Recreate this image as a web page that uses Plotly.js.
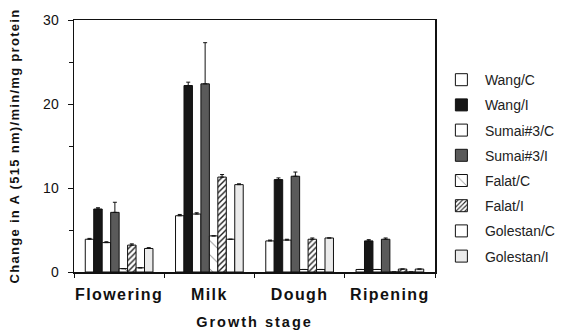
<!DOCTYPE html>
<html><head><meta charset="utf-8">
<script src="https://cdn.plot.ly/plotly-3.0.1.min.js"></script>
<style>
body{margin:0;background:#fff}#c{width:563px;height:335px}
#c .xtick text{letter-spacing:1.4px}
#c .g-xtitle text{letter-spacing:2px}
#c .g-ytitle text{letter-spacing:1.3px}
</style>
</head><body><div id="c"></div>
<script>
const stages = ["Flowering", "Milk", "Dough", "Ripening"];
const seriesNames = ["Wang/C", "Wang/I", "Sumai#3/C", "Sumai#3/I", "Falat/C", "Falat/I", "Golestan/C", "Golestan/I"];
const wangC = [3.9, 6.7, 3.7, 0.3];
const wangI = [7.5, 22.2, 11.0, 3.7];
const sumaiC = [3.5, 6.9, 3.8, 0.3];
const sumaiI = [7.1, 22.4, 11.4, 3.9];
const falatC = [0.4, 4.3, 0.3, 0];
const falatI = [3.2, 11.3, 3.9, 0.35];
const golestanC = [0.5, 3.9, 0.3, 0];
const golestanI = [2.8, 10.4, 4.05, 0.35];
const wangCErr = [0.1, 0.15, 0.1, 0];
const wangIErr = [0.15, 0.4, 0.2, 0.15];
const sumaiCErr = [0.1, 0.15, 0.1, 0];
const sumaiIErr = [1.2, 4.9, 0.5, 0.15];
const falatCErr = [0, 0, 0, 0];
const falatIErr = [0.15, 0.3, 0.15, 0];
const golestanCErr = [0, 0, 0, 0];
const golestanIErr = [0.1, 0.1, 0, 0];

const values = [wangC, wangI, sumaiC, sumaiI, falatC, falatI, golestanC, golestanI];
const errs = [wangCErr, wangIErr, sumaiCErr, sumaiIErr, falatCErr, falatIErr, golestanCErr, golestanIErr];
const fills = ["#ffffff", "#161616", "#ffffff", "#5a5a5a", "#ffffff", "#ffffff", "#ffffff", "#ebebeb"];
const patterns = [null, null, null, null,
  {shape: "\\", fgcolor: "#555", bgcolor: "#fff", size: 10, solidity: 0.08},
  {shape: "/", fgcolor: "#222", bgcolor: "#fff", size: 4, solidity: 0.35},
  null, null];

const traces = seriesNames.map((n, i) => {
  const m = {color: fills[i], line: {color: "#111", width: 1}};
  if (patterns[i]) m.pattern = patterns[i];
  return {
    type: "bar", name: n, x: stages, y: values[i], marker: m,
    legendgroup: "g" + i,
    error_y: {type: "data", symmetric: false, array: errs[i], arrayminus: errs[i].map(() => 0),
      color: "#111", thickness: 1, width: 2, visible: true}
  };
});

const layout = {
  width: 563, height: 335,
  margin: {l: 74, r: 128, t: 20, b: 63, autoexpand: false},
  barmode: "group", bargap: 0.25, bargroupgap: 0,
  paper_bgcolor: "#fff", plot_bgcolor: "#fff",
  font: {family: "Liberation Sans, Arial, sans-serif", color: "#111"},
  showlegend: true,
  legend: {x: 1.008, y: 0.825, xanchor: "left", yanchor: "top", font: {size: 14, color: "#222"},
    tracegroupgap: 4, traceorder: "grouped", bgcolor: "rgba(0,0,0,0)", itemwidth: 37},
  xaxis: {
    type: "category", tickson: "boundaries", ticks: "outside", ticklen: 4, tickcolor: "#111",
    showline: true, linecolor: "#111", linewidth: 1.5, mirror: true, automargin: false,
    ticklabelstandoff: 7, tickangle: 0,
    tickfont: {size: 16, family: "Liberation Sans, Arial, sans-serif", weight: "bold"},
    title: {text: "<b>Growth stage</b>", font: {size: 14.5}, standoff: 15}
  },
  yaxis: {
    range: [0, 30], tickvals: [0, 10, 20, 30], ticks: "outside", ticklen: 5, tickcolor: "#111",
    minor: {dtick: 5, ticks: "outside", ticklen: 4, tickcolor: "#111", showgrid: false},
    showgrid: false, zeroline: false, showline: true, linecolor: "#111", linewidth: 1.5, mirror: true,
    automargin: false, ticklabelstandoff: 6,
    tickfont: {size: 14},
    title: {text: "<b>Change in A (515 nm)/min/mg protein</b>", font: {size: 13}, standoff: 20}
  }
};
Plotly.newPlot("c", traces, layout, {displayModeBar: false, staticPlot: true});
</script></body></html>
